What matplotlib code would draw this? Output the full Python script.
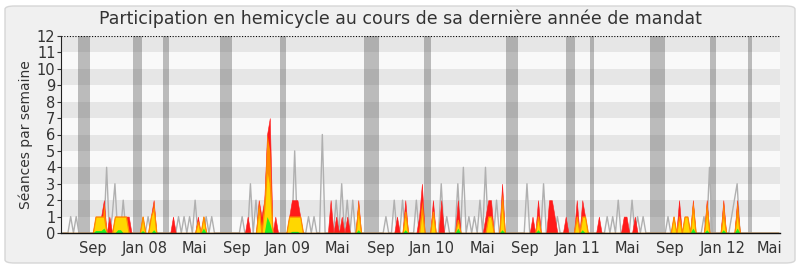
import numpy as np
import matplotlib
matplotlib.use('Agg')
import matplotlib.pyplot as plt
from matplotlib.patches import FancyBboxPatch

# ---------------- data (weekly index 0..259) ----------------
n_weeks = 260
median_presence = {3: 1, 5: 1, 16: 4, 18: 1, 19: 3, 22: 2, 31: 1, 42: 1, 44: 1, 46: 1, 48: 2,
                   52: 1, 54: 1, 65: 1, 68: 3, 70: 2, 84: 5, 89: 1, 91: 1, 94: 6, 99: 2,
                   101: 3, 103: 2, 105: 2, 117: 1, 120: 2, 123: 2, 128: 2, 137: 3, 139: 1,
                   143: 3, 145: 4, 147: 1, 149: 1, 151: 2, 153: 4, 157: 2, 168: 3, 174: 3,
                   179: 1, 197: 1, 199: 1, 201: 2, 206: 2, 208: 1, 210: 1, 219: 1, 232: 1,
                   234: 4, 242: 1, 243: 2, 244: 3}
presence = {12: 1, 13: 1, 14: 1, 15: 2, 17: 1, 19: 1, 20: 1, 21: 1, 22: 1, 23: 1, 24: 1,
            29: 1, 32: 1, 33: 2, 40: 1, 49: 1, 51: 1, 67: 1, 71: 2, 72: 1, 73: 2, 74: 6,
            75: 7, 77: 1, 82: 1, 83: 2, 84: 2, 85: 2, 86: 1, 97: 2, 99: 1, 101: 1, 103: 1,
            107: 2, 121: 1, 124: 2, 129: 1, 130: 3, 134: 2, 137: 2, 143: 2, 153: 1, 154: 2,
            155: 2, 159: 3, 170: 1, 172: 2, 176: 2, 177: 2, 178: 1, 182: 1, 186: 2, 188: 2,
            189: 1, 194: 1, 203: 1, 204: 1, 207: 1, 221: 1, 223: 2, 225: 1, 226: 1, 228: 2,
            233: 2, 239: 2, 244: 2}
participation = {15: 1.8, 29: 1, 33: 2, 71: 2, 73: 2, 74: 6, 75: 5, 107: 2, 130: 2,
                 159: 2.5, 228: 2, 233: 2, 239: 2, 244: 2}
interventions = {12: 1, 13: 1, 14: 1, 15: 1, 19: 1, 20: 1, 21: 1, 22: 1, 23: 1, 29: 1,
                 32: 1, 33: 1.5, 49: 0.7, 51: 1, 71: 1.5, 73: 1.5, 74: 4, 75: 3, 82: 1,
                 83: 1, 84: 1, 85: 1, 86: 1, 107: 1.5, 124: 1.3, 130: 1.5, 134: 1.3,
                 143: 0.8, 154: 1, 155: 1, 159: 2, 172: 1, 186: 1, 188: 1, 189: 1, 221: 1,
                 223: 1, 225: 1, 226: 1, 228: 1.6, 233: 1.5, 239: 1.2, 244: 1.3}
questions = {12: 0.15, 13: 0.15, 14: 0.15, 15: 0.3, 20: 0.2, 21: 0.2, 29: 0.15, 33: 0.2,
             51: 0.3, 74: 1, 75: 0.6, 83: 0.1, 84: 0.1, 85: 0.1, 107: 0.2, 124: 0.2,
             143: 0.3, 159: 0.2, 172: 0.2, 188: 0.2, 228: 0.3, 233: 0.2, 239: 0.2, 244: 0.3}
vacations = [(6.2, 10.5), (26.0, 29.3), (36.9, 39.1), (57.5, 61.8), (79.2, 81.4),
             (109.6, 115.0), (131.3, 133.8), (160.9, 165.3), (182.6, 185.9),
             (191.3, 192.8), (213.0, 218.4), (234.7, 236.9), (248.5, 249.9)]
tick_weeks = [11.6, 30.4, 48.1, 63.7, 82.1, 99.8, 115.7, 134.2, 152.3, 167.8, 186.7,
              204.7, 220.3, 239.1, 256.1]
tick_labels = ['Sep', 'Jan 08', 'Mai', 'Sep', 'Jan 09', 'Mai', 'Sep', 'Jan 10', 'Mai',
               'Sep', 'Jan 11', 'Mai', 'Sep', 'Jan 12', 'Mai']
title = "Participation en hemicycle au cours de sa dernière année de mandat"
ylabel = "Séances par semaine"


def to_array(d):
    a = np.zeros(n_weeks)
    for k, v in d.items():
        a[k] = v
    return a


x = np.arange(n_weeks) + 0.5
grey = to_array(median_presence)
red = to_array(presence)
orange = to_array(participation)
yellow = to_array(interventions)
green = to_array(questions)

fig = plt.figure(figsize=(8, 2.67), dpi=100)
fig.patch.set_facecolor('white')
frame = FancyBboxPatch((5 / 800, 4 / 267), 790 / 800, 257 / 267,
                       boxstyle="round,pad=0,rounding_size=0.012",
                       transform=fig.transFigure, facecolor='#f0f0f0',
                       edgecolor='#d6d6d6', linewidth=1.0, zorder=-10)
fig.patches.append(frame)

ax = fig.add_axes([61 / 800, 34 / 267, 719 / 800, 197 / 267])
ax.set_zorder(2)
ax.set_facecolor('#f9f9f9')
for k in range(12):
    ax.axhspan(k, k + 1, color='#e6e6e6' if k % 2 == 1 else '#f9f9f9', lw=0, zorder=0)
for a, b in vacations:
    ax.axvspan(a, b, color='#515151', alpha=0.37, lw=0, zorder=1)

ax.plot(x, grey, color='#b0b0b0', lw=1.0, zorder=2)
ax.fill_between(x, 0, red, color='#ff1a1a', lw=0.4, edgecolor='#ff1a1a', zorder=3)
ax.fill_between(x, 0, orange, color='#ff8c00', lw=0, zorder=4)
ax.fill_between(x, 0, yellow, facecolor='#ffd700', edgecolor='#ff8c00', lw=0.9, zorder=5)
ax.fill_between(x, 0, green, color='#22ee22', lw=0, zorder=6)

ax.axhline(12, color='black', ls=(0, (1, 1.5)), lw=0.8, zorder=7)
ax.set_xlim(0, n_weeks)
ax.set_ylim(0, 12)
ax.set_yticks(range(13))
ax.set_xticks(tick_weeks)
ax.set_xticklabels(tick_labels)
ax.tick_params(axis='x', length=0, labelsize=10.5, colors='#333333', pad=6)
ax.tick_params(axis='y', length=3, labelsize=10.5, colors='#333333', pad=1)
for s in ['top', 'right']:
    ax.spines[s].set_visible(False)
ax.spines['left'].set_color('#222222')
ax.spines['bottom'].set_color('#111111')
ax.spines['left'].set_linewidth(0.8)
ax.spines['bottom'].set_linewidth(1.0)
ax.spines['left'].set_zorder(8)
ax.spines['bottom'].set_zorder(8)
ax.set_ylabel(ylabel, fontsize=10, color='#333333', labelpad=3)
fig.text(0.5, 1 - 19 / 267, title, ha='center', va='center', fontsize=12.5, color='#333333')

fig.savefig('out.png', dpi=100, facecolor=fig.get_facecolor())
